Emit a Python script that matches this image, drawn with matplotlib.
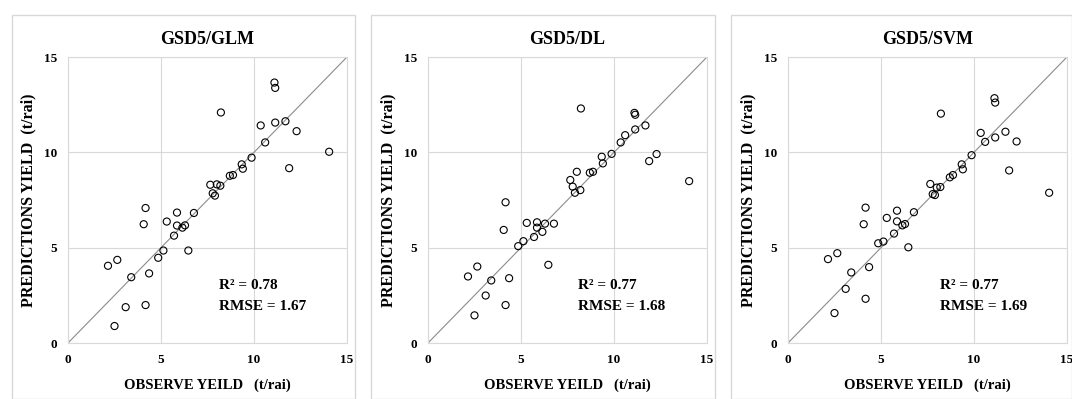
import matplotlib.pyplot as plt
from matplotlib.patches import Rectangle

# observed yield (shared by all three models)
observed = [2.15, 2.65, 2.50, 3.10, 3.40, 4.07, 4.17, 4.17, 4.36, 4.85,
            5.13, 5.31, 5.70, 5.86, 5.86, 6.15, 6.29, 6.47, 6.77, 7.65,
            7.78, 7.90, 8.00, 8.19, 8.22, 8.70, 8.87, 9.34, 9.40, 9.87,
            10.36, 10.60, 11.10, 11.14, 11.14, 11.69, 11.89, 12.29, 14.04]

pred_glm = [4.05, 4.36, 0.89, 1.88, 3.45, 6.23, 7.08, 1.99, 3.65, 4.47,
            4.85, 6.37, 5.63, 6.84, 6.16, 6.05, 6.17, 4.85, 6.82, 8.30,
            7.85, 7.73, 8.32, 8.25, 12.09, 8.77, 8.81, 9.37, 9.14, 9.72,
            11.41, 10.52, 13.66, 13.38, 11.56, 11.63, 9.17, 11.11, 10.03]

pred_dl = [3.49, 4.01, 1.45, 2.49, 3.28, 5.93, 7.38, 1.99, 3.40, 5.08,
           5.34, 6.30, 5.56, 6.33, 6.05, 5.83, 6.26, 4.10, 6.26, 8.55,
           8.20, 7.88, 8.98, 8.02, 12.30, 8.93, 8.98, 9.77, 9.42, 9.92,
           10.52, 10.90, 12.07, 11.97, 11.20, 11.41, 9.54, 9.91, 8.49]

pred_svm = [4.40, 4.71, 1.57, 2.84, 3.70, 6.23, 7.10, 2.32, 3.98, 5.23,
            5.32, 6.56, 5.74, 6.94, 6.38, 6.17, 6.24, 5.02, 6.86, 8.34,
            7.81, 7.76, 8.15, 8.18, 12.03, 8.69, 8.81, 9.37, 9.11, 9.85,
            11.02, 10.55, 12.84, 12.61, 10.78, 11.08, 9.05, 10.57, 7.88]

titles = ['GSD5/GLM', 'GSD5/DL', 'GSD5/SVM']
r2_vals = ['0.78', '0.77', '0.77']
rmse_vals = ['1.67', '1.68', '1.69']
ticks = [0, 5, 10, 15]

plt.rcParams['font.family'] = ['Liberation Serif', 'DejaVu Serif']

fig = plt.figure(figsize=(10.72, 3.99), dpi=100)

# white panel boxes behind each chart
boxes = [(12, 355), (371, 715), (731, 1072)]
for x0, x1 in boxes:
    fig.patches.append(Rectangle((x0 / 1072, 0), (x1 - x0) / 1072, 1 - 15 / 399,
                                 transform=fig.transFigure, facecolor='white',
                                 edgecolor='#d9d9d9', linewidth=1.0, zorder=-5))

lefts = [68, 428, 788]
preds = [pred_glm, pred_dl, pred_svm]
text_x = [8.1, 8.05, 8.15]

for i in range(3):
    ax = fig.add_axes([lefts[i] / 1072, 1 - 343 / 399, 279 / 1072, 286 / 399])
    ax.set_xlim(0, 15)
    ax.set_ylim(0, 15)
    ax.set_xticks(ticks)
    ax.set_yticks(ticks)
    ax.grid(True, color='#d9d9d9', linewidth=0.8)
    ax.set_axisbelow(True)
    for sp in ax.spines.values():
        sp.set_color('#d9d9d9')
        sp.set_linewidth(0.8)
    ax.tick_params(length=0, labelsize=9.5, pad=8)
    for lab in ax.get_xticklabels() + ax.get_yticklabels():
        lab.set_fontweight('bold')

    ax.plot([0, 15], [0, 15], color='#8c8c8c', linewidth=0.8, zorder=2)
    ax.scatter(observed, preds[i], s=26, facecolors='none', edgecolors='black',
               linewidths=0.8, zorder=3)

    ax.set_title(titles[i], fontsize=13, fontweight='bold', pad=9)
    ax.set_xlabel('OBSERVE YEILD   (t/rai)', fontsize=10.5, fontweight='bold', labelpad=9)
    ax.set_ylabel('PREDICTIONS YIELD  (t/rai)', fontsize=11.5, fontweight='bold', labelpad=5)

    ax.text(text_x[i], 3.0, 'R² = ' + r2_vals[i], fontsize=11, fontweight='bold', va='center')
    ax.text(text_x[i], 1.9, 'RMSE = ' + rmse_vals[i], fontsize=11, fontweight='bold', va='center')

fig.savefig('out.png', dpi=100)
